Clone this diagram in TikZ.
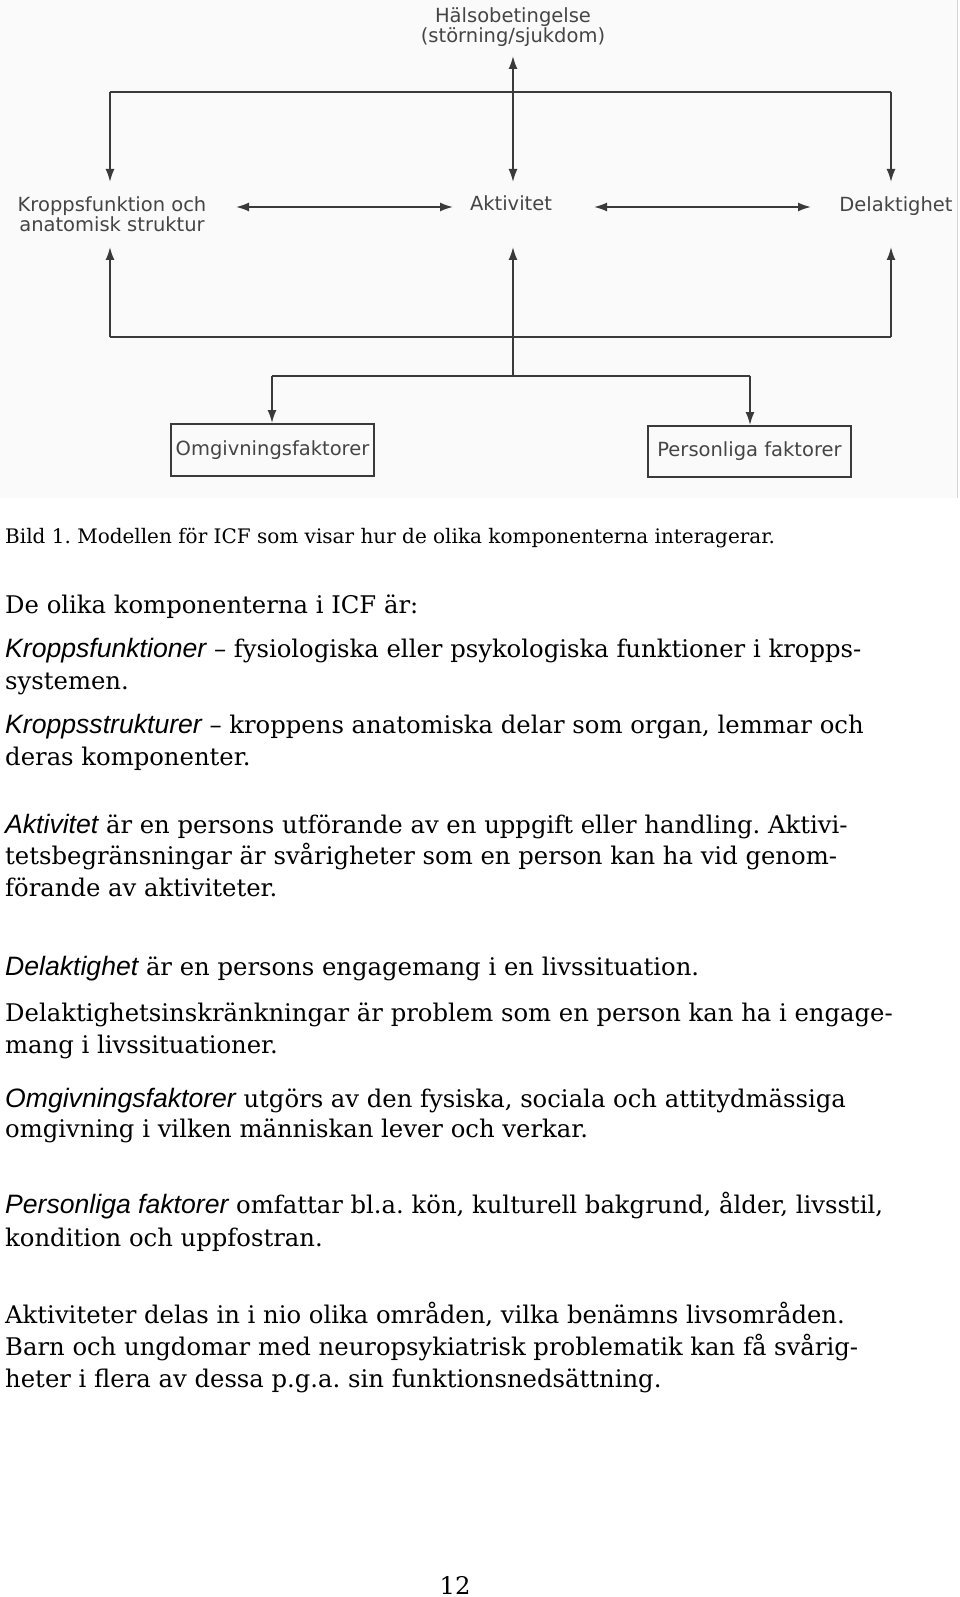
\documentclass[tikz,border=0pt]{standalone}
\usepackage{fontspec}
\setmainfont{DejaVu Serif}
\newfontfamily\dejasans{DejaVu Sans}
\newfontfamily\libsans{Liberation Sans}
\usetikzlibrary{arrows.meta}
\definecolor{dline}{HTML}{3A3A3A}
\definecolor{dtext}{HTML}{454545}
\definecolor{scanbg}{HTML}{FAFAFA}
\definecolor{scanedge}{HTML}{D4D4D4}
\newcommand\diagfont{\dejasans\fontsize{19.5}{20}\selectfont}
\newcommand\bodyfont{\frenchspacing\fontsize{24.3}{32}\selectfont}
\newcommand\capfont{\frenchspacing\fontsize{20}{24}\selectfont}
\newcommand\term[1]{{\libsans\itshape\fontsize{26.6}{26}\selectfont #1}}
\tikzset{
  diag/.style={font=\diagfont, text=dtext, inner sep=0pt},
  conn/.style={draw=dline, line width=1.8pt},
  arr/.style={conn, -{Latex[length=13pt,width=9pt]}},
  darr/.style={conn, {Latex[length=13pt,width=9pt]}-{Latex[length=13pt,width=9pt]}},
  box/.style={draw=dline, line width=1.9pt, inner sep=0pt, font=\diagfont, text=dtext},
  body/.style={font=\bodyfont, anchor=base west, inner sep=0pt},
  capt/.style={font=\capfont, anchor=base west, inner sep=0pt},
}
\begin{document}
\begin{tikzpicture}[x=1pt,y=-1pt]
\useasboundingbox (0,0) rectangle (960,1597);
\fill[white] (0,0) rectangle (960,1597);
% scanned figure background
\fill[scanbg] (0,0) rectangle (957,498);
\draw[scanedge, line width=0.8pt] (957,0) -- (957,498);

% ---- diagram nodes
\node[diag, align=center, anchor=north] (hb) at (513,7) {Hälsobetingelse\\(störning/sjukdom)};
\node[diag, align=center, anchor=north] (kf) at (112,196) {Kroppsfunktion och\\anatomisk struktur};
\node[diag, anchor=base] (ak) at (511,211) {Aktivitet};
\node[diag, anchor=base] (dl) at (896,212) {Delaktighet};
\node[box, minimum width=203pt, minimum height=52pt] (omg) at (272.5,450) {Omgivningsfaktorer};
\node[box, minimum width=203pt, minimum height=51pt] (pers) at (749.5,451.5) {Personliga faktorer};

% ---- junction coordinates
\coordinate (tl) at (110,92);
\coordinate (tr) at (891,92);
\coordinate (hbTip) at (513,56);
\coordinate (akTip) at (513,182);
\coordinate (kfTip) at (110,182);
\coordinate (dlTip) at (891,182);
\coordinate (kfR) at (236,207);
\coordinate (akL) at (453,207);
\coordinate (akR) at (594,207);
\coordinate (dlL) at (811,207);
\coordinate (bl) at (110,337);
\coordinate (bc) at (513,337);
\coordinate (br) at (891,337);
\coordinate (kfUp) at (110,247);
\coordinate (akUp) at (513,247);
\coordinate (dlUp) at (891,247);
\coordinate (lc) at (513,376);
\coordinate (ll) at (272,376);
\coordinate (lr) at (750,376);

% ---- connectors
\draw[conn] (tl) -- (tr);
\draw[arr] (tl) -- (kfTip);
\draw[arr] (tr) -- (dlTip);
\draw[darr] (hbTip) -- (akTip);
\draw[darr] (kfR) -- (akL);
\draw[darr] (akR) -- (dlL);
\draw[conn] (bl) -- (br);
\draw[arr] (bl) -- (kfUp);
\draw[arr] (br) -- (dlUp);
\draw[arr] (lc) -- (akUp);
\draw[conn] (ll) -- (lr);
\draw[arr] (ll) -- (ll |- omg.north);
\draw[arr] (lr) -- (lr |- pers.north);

% ---- caption and body text
\node[capt] (cap) at (5,543) {Bild 1. Modellen för ICF som visar hur de olika komponenterna interagerar.};
\node[body] (t1) at (5,613) {De olika komponenterna i ICF är:};
\node[body] (t2) at (5,657) {\term{Kroppsfunktioner} – fysiologiska eller psykologiska funktioner i kropps-};
\node[body] (t3) at (5,689) {systemen.};
\node[body] (t4) at (5,733) {\term{Kroppsstrukturer} – kroppens anatomiska delar som organ, lemmar och};
\node[body] (t5) at (5,765) {deras komponenter.};
\node[body] (t6) at (5,833) {\term{Aktivitet} är en persons utförande av en uppgift eller handling. Aktivi-};
\node[body] (t7) at (5,864) {tetsbegränsningar är svårigheter som en person kan ha vid genom-};
\node[body] (t8) at (5,896) {förande av aktiviteter.};
\node[body] (t9) at (5,975) {\term{Delaktighet} är en persons engagemang i en livssituation.};
\node[body] (t10) at (5,1021) {Delaktighetsinskränkningar är problem som en person kan ha i engage-};
\node[body] (t11) at (5,1053) {mang i livssituationer.};
\node[body] (t12) at (5,1107) {\term{Omgivningsfaktorer} utgörs av den fysiska, sociala och attitydmässiga};
\node[body] (t13) at (5,1137) {omgivning i vilken människan lever och verkar.};
\node[body] (t14) at (5,1213) {\term{Personliga faktorer} omfattar bl.a. kön, kulturell bakgrund, ålder, livsstil,};
\node[body] (t15) at (5,1246) {kondition och uppfostran.};
\node[body] (t16) at (5,1323) {Aktiviteter delas in i nio olika områden, vilka benämns livsområden.};
\node[body] (t17) at (5,1355) {Barn och ungdomar med neuropsykiatrisk problematik kan få svårig-};
\node[body] (t18) at (5,1387) {heter i flera av dessa p.g.a. sin funktionsnedsättning.};
\node[font=\bodyfont, anchor=base, inner sep=0pt] (pg) at (455,1594) {12};
\end{tikzpicture}
\end{document}
